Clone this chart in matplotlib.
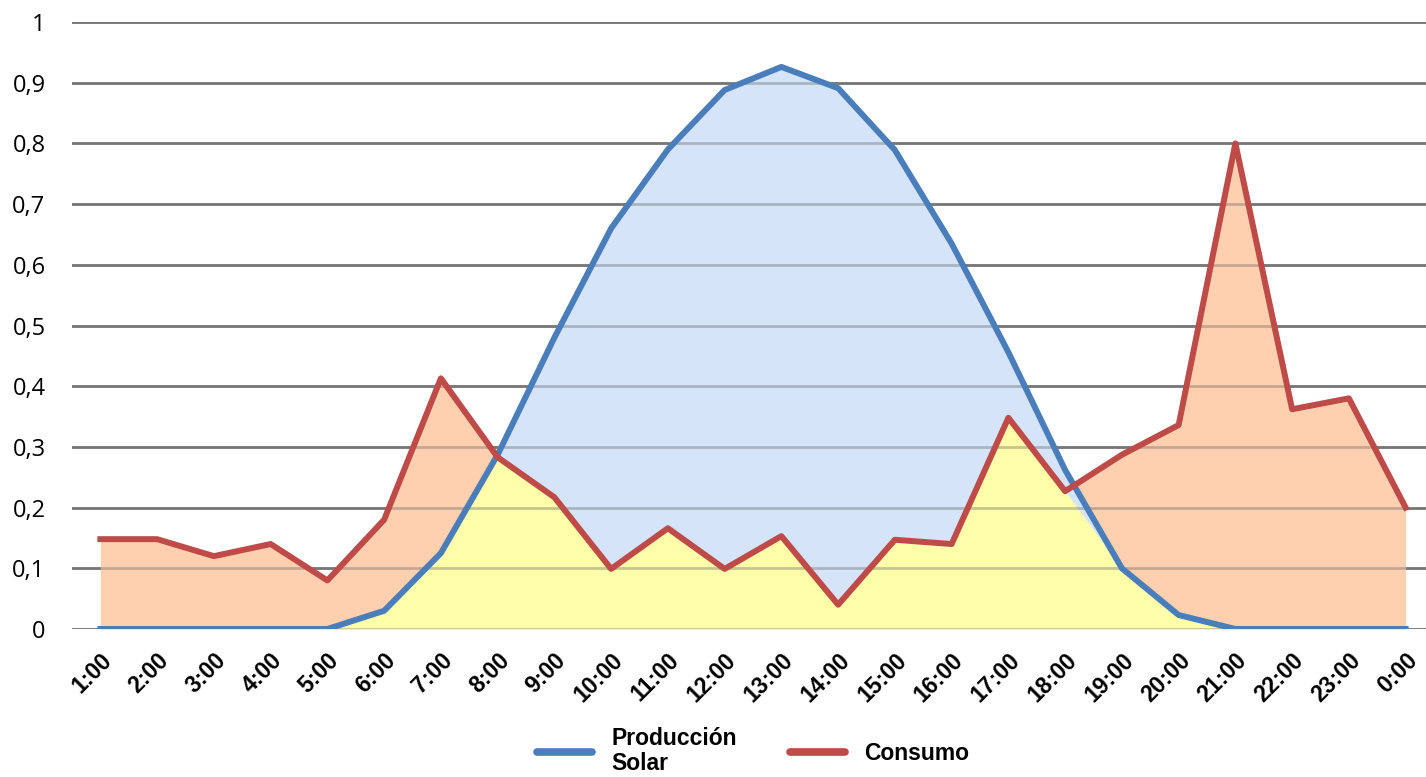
import matplotlib
matplotlib.use("Agg")
import matplotlib.pyplot as plt
import numpy as np

HOURS = ["1:00", "2:00", "3:00", "4:00", "5:00", "6:00", "7:00", "8:00",
         "9:00", "10:00", "11:00", "12:00", "13:00", "14:00", "15:00", "16:00",
         "17:00", "18:00", "19:00", "20:00", "21:00", "22:00", "23:00", "0:00"]

SOLAR = [0, 0, 0, 0, 0, 0.03, 0.125, 0.287, 0.48, 0.66, 0.79, 0.888,
         0.926, 0.891, 0.789, 0.635, 0.456, 0.262, 0.10, 0.023, 0, 0, 0, 0]

CONSUMO = [0.148, 0.148, 0.12, 0.14, 0.08, 0.18, 0.413, 0.283, 0.217, 0.099,
           0.166, 0.099, 0.153, 0.04, 0.147, 0.14, 0.348, 0.227, 0.287, 0.336,
           0.80, 0.362, 0.38, 0.20]

Y_TICKS = [0, 0.1, 0.2, 0.3, 0.4, 0.5, 0.6, 0.7, 0.8, 0.9, 1]
Y_LABELS = ["0", "0,1", "0,2", "0,3", "0,4", "0,5", "0,6", "0,7", "0,8", "0,9", "1"]

BLUE = "#4A7EBB"
RED = "#BE4B48"
GRID = "#878787"

x = np.arange(len(HOURS))
solar = np.array(SOLAR)
consumo = np.array(CONSUMO)

fig = plt.figure(figsize=(14.26, 7.77), dpi=100)
ax = fig.add_axes([72 / 1426, 1 - 629 / 777, 1362 / 1426, 607 / 777])

# solid gridlines below, a faint copy above so they tint through the areas
for y in Y_TICKS:
    ax.axhline(y, color=GRID, lw=2, zorder=0)
    ax.axhline(y, color="#5a5a5a", lw=2, alpha=0.35, zorder=3.5)

ax.fill_between(x, consumo, color="#FFD0B0", lw=0, zorder=1)
ax.fill_between(x, solar, color="#D6E4FA", lw=0, zorder=2)
ax.fill_between(x, np.minimum(solar, consumo), color="#FFFFAA", lw=0, zorder=3)

ax.plot(x, solar, color=BLUE, lw=4.3, zorder=4, solid_joinstyle="round",
        label="Producción\nSolar")
ax.plot(x, consumo, color=RED, lw=4.3, zorder=5, solid_joinstyle="round",
        label="Consumo")

ax.set_xlim(-0.5, 23.5)
ax.set_ylim(0, 1)
for s in ax.spines.values():
    s.set_visible(False)

ax.set_yticks(Y_TICKS)
ax.set_yticklabels(Y_LABELS, fontsize=17, family="Open Sans")
ax.set_xticks(x)
ax.set_xticklabels(HOURS, rotation=45, ha="right", rotation_mode="anchor",
                   fontsize=16.5, fontweight="bold", family="Liberation Sans")
ax.tick_params(axis="both", length=0)
ax.tick_params(axis="y", pad=19)
ax.tick_params(axis="x", pad=14)

leg = fig.legend(loc="lower center", bbox_to_anchor=(0.528, 0.003), ncol=2,
                 frameon=False, handlelength=2.4, handletextpad=0.85,
                 columnspacing=2.3, borderaxespad=0, borderpad=0,
                 prop={"family": "Liberation Sans", "weight": "bold", "size": 16.5})
for text in leg.get_texts():
    text.set_linespacing(1.1)
for line in leg.get_lines():
    line.set_linewidth(5.5)
    line.set_solid_capstyle("round")

fig.savefig("out.png", dpi=100)
